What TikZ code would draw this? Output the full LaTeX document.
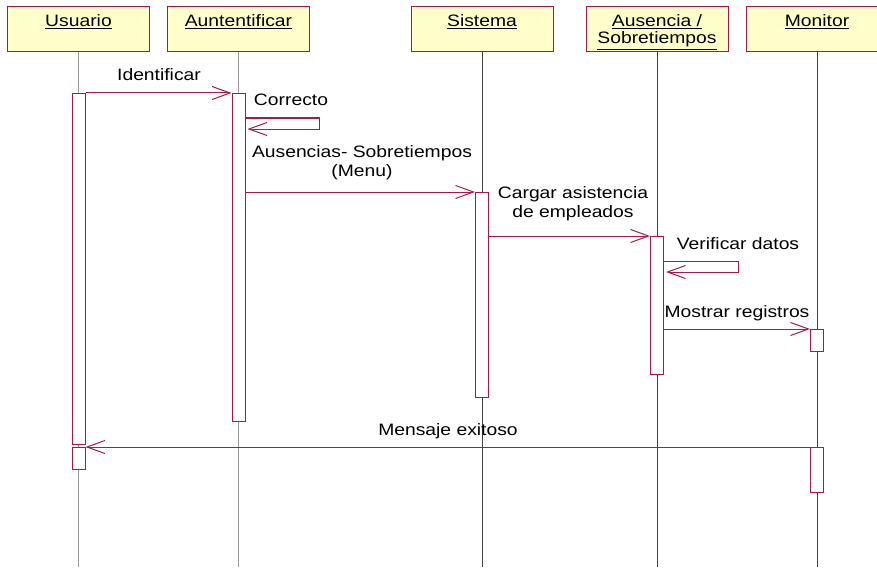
\documentclass[tikz,border=0pt]{standalone}
\usepackage{fontspec}
\setmainfont{Liberation Sans}[FakeStretch=1.17]
\usetikzlibrary{arrows.meta,positioning,calc}
\definecolor{umlred}{RGB}{165,25,75}
\definecolor{umlyel}{RGB}{255,255,204}

\begin{document}
\begin{tikzpicture}[x=1pt,y=-1pt,
  font=\fontsize{16.5}{18.5}\selectfont,
  objbox/.style={draw=umlred,fill=umlyel,line width=1pt,minimum width=142pt,minimum height=45pt,inner sep=0pt},
  objtxt/.style={inner sep=0pt,align=center,anchor=base,font=\fontsize{16.5}{17.5}\selectfont},
  life/.style={line width=1.2pt,gray!80},
  lifed/.style={line width=0.9pt,black!75},
  act/.style={draw=umlred,fill=white,line width=1pt,minimum width=13pt,inner sep=0pt,anchor=north},
  msg/.style={umlred,line width=1pt,-{Straight Barb[length=18pt,width=13pt]}},
  lbl/.style={inner sep=0pt,anchor=base,align=center}]
\useasboundingbox (0,0) rectangle (877,567);
\clip (0,0) rectangle (877,567);
\coordinate (bot) at (0,567);

% objects
\node[objbox] (usu) at (78.5,29.5) {};
\node[objbox] (aut) at (238.5,29.5) {};
\node[objbox] (sis) at (482,29.5) {};
\node[objbox] (aus) at (657,29.5) {};
\node[objbox] (mon) at (817,29.5) {};
\node[objtxt] (usuT) at ($(usu.north)+(0,20)$) {\underline{Usuario}};
\node[objtxt] (autT) at ($(aut.north)+(0,20)$) {\underline{Auntentificar}};
\node[objtxt] (sisT) at ($(sis.north)+(0,20)$) {\underline{Sistema}};
\node[objtxt] (ausT) at ($(aus.north)+(0,37.5)$) {\underline{Ausencia /}\\\underline{Sobretiempos}};
\node[objtxt] (monT) at ($(mon.north)+(0,20)$) {\underline{Monitor}};

% lifelines
\draw[life] (usu.south) -- (usu.south |- bot);
\draw[life] (aut.south) -- (aut.south |- bot);
\draw[lifed] (sis.south) -- (sis.south |- bot);
\draw[lifed] (aus.south) -- (aus.south |- bot);
\draw[lifed] (mon.south) -- (mon.south |- bot);

% activations
\node[act,minimum height=351pt] (usuA1) at (78.5,93) {};
\node[act,minimum height=22pt] (usuA2) at (78.5,447) {};
\node[act,minimum height=328pt] (autA) at (238.5,93) {};
\node[act,minimum height=205pt] (sisA) at (482,192) {};
\node[act,minimum height=138pt] (ausA) at (657,236) {};
\node[act,minimum height=22pt] (monA1) at (817,329) {};
\node[act,minimum height=45pt] (monA2) at (817,447) {};

% messages
\draw[msg] (usuA1.north east) -- (autA.north west);
\coordinate (corr) at ($(autA.north east)+(0,25)$);
\draw[msg] (corr) -- ++(74,0) -- ++(0,11) -- ++(-72,0);
\draw[msg] (autA.east |- sisA.north) -- (sisA.north west);
\draw[msg] (sisA.east |- ausA.north) -- (ausA.north west);
\coordinate (veri) at ($(ausA.north east)+(0,25)$);
\draw[msg] (veri) -- ++(74,0) -- ++(0,11) -- ++(-72,0);
\draw[msg] (ausA.east |- monA1.north) -- (monA1.north west);
\draw[msg] (monA2.north west) -- (usuA2.north east);

% labels
\node[lbl] (idLbl) at (159,81) {Identificar};
\node[lbl] (corLbl) at (291,106) {Correcto};
\node[lbl] (menuLbl) at (362,176) {Ausencias- Sobretiempos\\(Menu)};
\node[lbl] (cargLbl) at (573,217) {Cargar asistencia\\de empleados};
\node[lbl] (verLbl) at (738,249) {Verificar datos};
\node[lbl] (mosLbl) at (737,317) {Mostrar registros};
\node[lbl] (menLbl) at (448,435) {Mensaje exitoso};
\end{tikzpicture}
\end{document}
